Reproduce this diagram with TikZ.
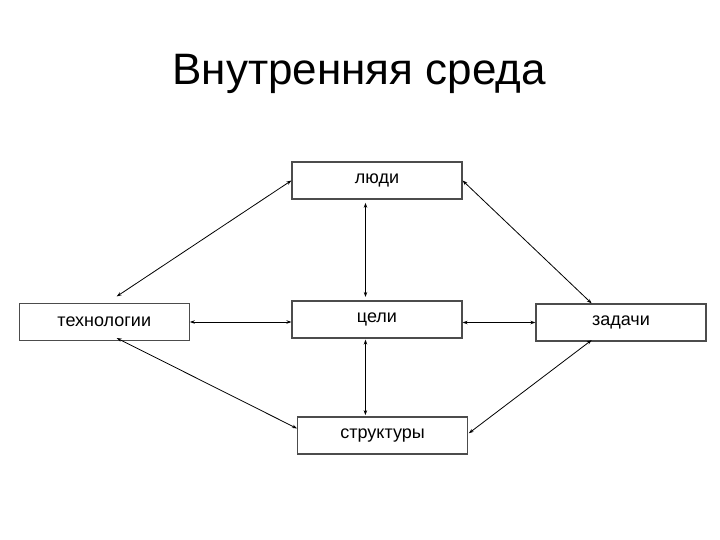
\documentclass[tikz,border=0pt]{standalone}
\usepackage{fontspec}
\setmainfont{Liberation Sans}
\usetikzlibrary{arrows.meta,calc}
\begin{document}
\begin{tikzpicture}[x=1pt,y=-1pt,
  box/.style={draw=black!70,line width=1.1pt,minimum width=170pt,minimum height=37pt,inner sep=0pt,font=\fontsize{18}{20}\selectfont},
  link/.style={line width=0.8pt,{Stealth[length=5pt,width=3.5pt]}-{Stealth[length=5pt,width=3.5pt]}}]
\useasboundingbox[fill=white] (0,0) rectangle (720,540);
\node[anchor=base,font=\fontsize{44}{48}\selectfont] (title) at (359.2,85) {Внутренняя среда};
\node[box] (ljudi) at (377,180.5) {люди};
\node[box] (celi) at (377,319.5) {цели};
\node[box] (tech) at (104.3,322) {технологии};
\node[box] (zad) at (621,322.5) {задачи};
\node[box] (str) at (382.6,435.5) {структуры};
\draw[link] (ljudi.west) -- ($(tech.north)+(12.4,-6.5)$);
\draw[link] (ljudi.east) -- ($(zad.north)+(-29.3,0)$);
\draw[link] ($(ljudi.south)+(-11.5,3.3)$) -- ($(celi.north)+(-11.5,-3.5)$);
\draw[link] (tech.east) -- (tech.east -| celi.west);
\draw[link] (celi.east |- zad.west) -- (zad.west);
\draw[link] ($(zad.south)+(-29.3,-1.5)$) -- ($(str.east)+(0.6,-2.2)$);
\draw[link] ($(tech.south)+(12.4,-3)$) -- ($(str.west)+(0,-7)$);
\draw[link] ($(celi.south)+(-11.5,1)$) -- ($(str.north)+(-17.2,-1.3)$);
\end{tikzpicture}
\end{document}
